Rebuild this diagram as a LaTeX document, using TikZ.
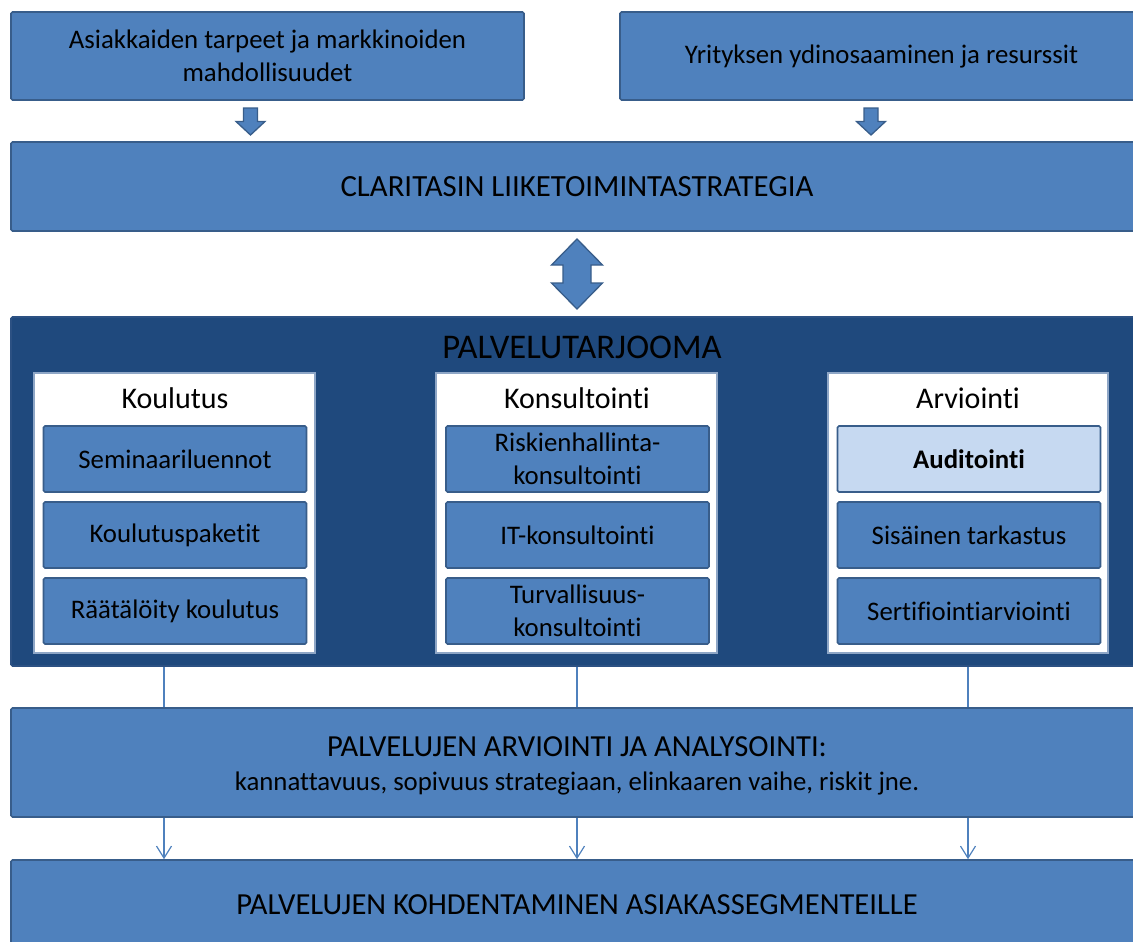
\documentclass[tikz,border=0pt]{standalone}
\usepackage{fontspec}
\setmainfont{Carlito}[Ligatures={NoCommon,NoContextual}]
\usetikzlibrary{arrows.meta}
\definecolor{boxfill}{HTML}{4F81BD}
\definecolor{boxline}{HTML}{385D8A}
\definecolor{darkfill}{HTML}{1F497D}
\definecolor{darkline}{HTML}{2C5183}
\definecolor{lightfill}{HTML}{C6D9F1}
\definecolor{panelline}{HTML}{8EA6C6}
\newcommand{\fs}[1]{\fontsize{#1}{1.22\dimexpr #1pt\relax}\selectfont}
\begin{document}
\begin{tikzpicture}[x=1pt,y=-1pt,
  bluebox/.style={draw=boxline, fill=boxfill, line width=1.6pt, rounded corners=1.5pt,
    inner sep=0pt, align=center, text=black},
  darkbox/.style={draw=darkline, fill=darkfill, line width=1.6pt, rounded corners=1.5pt, inner sep=0pt},
  panel/.style={draw=panelline, fill=white, line width=1.4pt, inner sep=0pt,
    minimum width=281pt, minimum height=280pt},
  subbox/.style={bluebox, minimum width=263pt, minimum height=66pt, font=\fs{26.8}},
  blockarrow/.style={draw=boxline, fill=boxfill, line width=1.3pt, line join=miter},
  link/.style={draw=boxfill, line width=1.2pt},
  tip/.style={-{Straight Barb[length=12pt,width=15pt,line width=1.2pt]}},
  downarrow/.pic={\path[blockarrow] (-7,-13.5) -- (7,-13.5) -- (7,0) -- (14.5,0) -- (0,13.5)
      -- (-14.5,0) -- (-7,0) -- cycle;},
  updownarrow/.pic={\path[blockarrow] (0,-35) -- (25.5,-9) -- (14,-9) -- (14,9) -- (25.5,9)
      -- (0,35) -- (-25.5,9) -- (-14,9) -- (-14,-9) -- (-25.5,-9) -- cycle;}
]
\useasboundingbox (0,0) rectangle (1133,942);
\clip (0,0) rectangle (1133,942);

% inputs to the strategy
\node[bluebox, minimum width=513pt, minimum height=88pt, font=\fs{26.8}] (needs) at (267.5,56)
  {Asiakkaiden tarpeet ja markkinoiden\\mahdollisuudet};
\node[bluebox, minimum width=523pt, minimum height=88pt, font=\fs{26.8}] (core) at (881.5,56)
  {Yrityksen ydinosaaminen ja resurssit};
\node[bluebox, minimum width=1132pt, minimum height=89pt, font=\fs{30.8}] (strategy) at (577,186.5)
  {CLARITASIN LIIKETOIMINTASTRATEGIA};

\pic at (250.5,121.5) {downarrow};
\pic at (871,121.5) {downarrow};
\pic at (577,274) {updownarrow};

% service offering
\node[darkbox, minimum width=1132pt, minimum height=349pt] (offer) at (577,491.5) {};
\node[font=\fs{34.6}, inner sep=0pt] (offertitle) at (582,347) {PALVELUTARJOOMA};

\node[panel] (training) at (174.5,513) {};
\node[panel] (consulting) at (576.5,513) {};
\node[panel, minimum width=280pt] (assessment) at (968,513) {};

\node[font=\fs{30}, inner sep=0pt] (t1) at (175,398) {Koulutus};
\node[font=\fs{30}, inner sep=0pt] (t2) at (577,398) {Konsultointi};
\node[font=\fs{30}, inner sep=0pt] (t3) at (968,398) {Arviointi};

\node[subbox] (s11) at (175,459) {Seminaariluennot};
\node[subbox] (s12) at (175,535) {Koulutuspaketit};
\node[subbox] (s13) at (175,611) {Räätälöity koulutus};

\node[subbox] (s21) at (577.5,459) {Riskienhallinta-\\konsultointi};
\node[subbox] (s22) at (577.5,535) {IT-konsultointi};
\node[subbox] (s23) at (577.5,611) {Turvallisuus-\\konsultointi};

\node[subbox, fill=lightfill, font=\fs{26.8}\bfseries] (s31) at (969,459) {Auditointi};
\node[subbox] (s32) at (969,535) {Sisäinen tarkastus};
\node[subbox] (s33) at (969,611) {Sertifiointiarviointi};

% analysis and targeting
\node[bluebox, minimum width=1132pt, minimum height=109pt] (analysis) at (577,762.5) {};
\node[align=center, inner sep=0pt, font=\fs{26.8}] (analysistext) at (577,766)
  {{\fs{30.6}PALVELUJEN ARVIOINTI JA ANALYSOINTI:}\\[1pt]
   kannattavuus, sopivuus strategiaan, elinkaaren vaihe, riskit jne.};
\node[bluebox, minimum width=1132pt, minimum height=90pt, font=\fs{30.6}] (targeting) at (577,905)
  {PALVELUJEN KOHDENTAMINEN ASIAKASSEGMENTEILLE};

\coordinate (xa) at (164,0);
\coordinate (xb) at (577,0);
\coordinate (xc) at (968,0);
\foreach \c in {xa,xb,xc}{
  \draw[link] (offer.south -| \c) -- (analysis.north -| \c);
  \draw[link, tip] (analysis.south -| \c) -- (targeting.north -| \c);
}
\end{tikzpicture}
\end{document}
